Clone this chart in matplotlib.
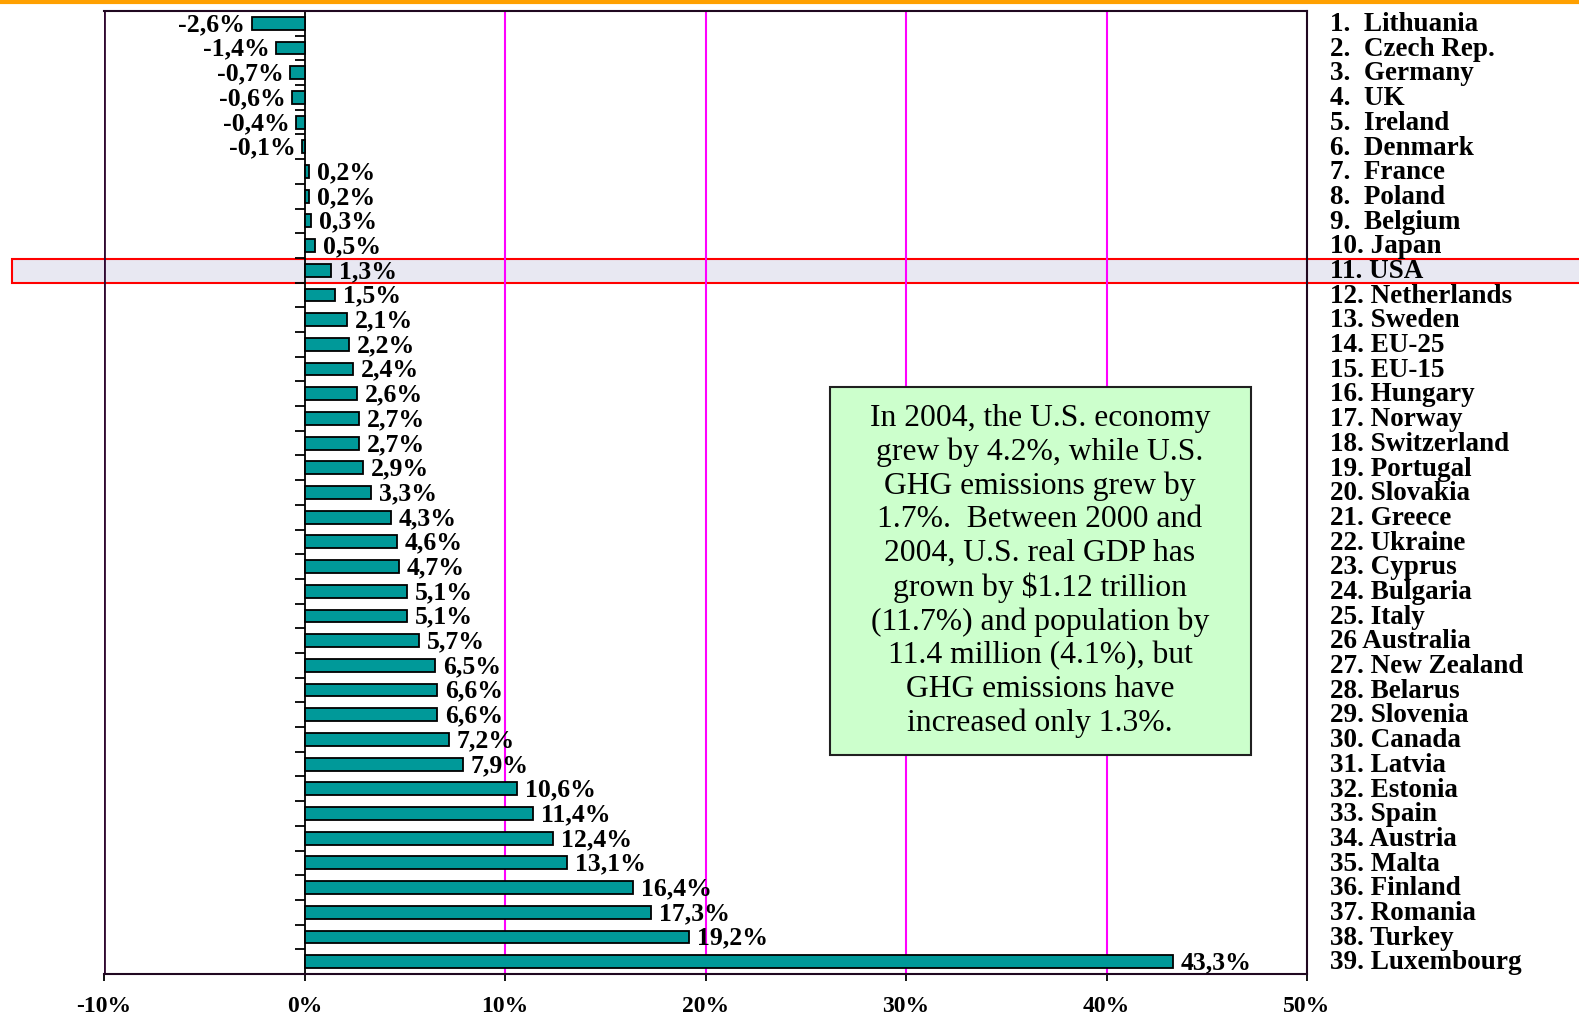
import numpy as np
import matplotlib.pyplot as plt
from matplotlib.patches import Rectangle
from matplotlib.lines import Line2D
import matplotlib.transforms as mtrans

plt.rcParams['font.family'] = ['Liberation Serif', 'DejaVu Serif']

# данные: изменение выбросов ПГ 2003-2004, %
countries = ['Lithuania', 'Czech Rep.', 'Germany', 'UK', 'Ireland', 'Denmark', 'France',
             'Poland', 'Belgium', 'Japan', 'USA', 'Netherlands', 'Sweden', 'EU-25', 'EU-15',
             'Hungary', 'Norway', 'Switzerland', 'Portugal', 'Slovakia', 'Greece', 'Ukraine',
             'Cyprus', 'Bulgaria', 'Italy', 'Australia', 'New Zealand', 'Belarus', 'Slovenia',
             'Canada', 'Latvia', 'Estonia', 'Spain', 'Austria', 'Malta', 'Finland', 'Romania',
             'Turkey', 'Luxembourg']
values = [-2.6, -1.4, -0.7, -0.6, -0.4, -0.1, 0.2, 0.2, 0.3, 0.5, 1.3, 1.5, 2.1, 2.2, 2.4,
          2.6, 2.7, 2.7, 2.9, 3.3, 4.3, 4.6, 4.7, 5.1, 5.1, 5.7, 6.5, 6.6, 6.6, 7.2, 7.9,
          10.6, 11.4, 12.4, 13.1, 16.4, 17.3, 19.2, 43.3]
xticks = [-10, 0, 10, 20, 30, 40, 50]
highlight = 'USA'
note = ("In 2004, the U.S. economy\ngrew by 4.2%, while U.S.\nGHG emissions grew by\n"
        "1.7%.  Between 2000 and\n2004, U.S. real GDP has\ngrown by $1.12 trillion\n"
        "(11.7%) and population by\n11.4 million (4.1%), but\nGHG emissions have\n"
        "increased only 1.3%.")

W, H = 1579, 1017
fig = plt.figure(figsize=(W / 100, H / 100), dpi=100)
ax = fig.add_axes([104 / W, 1 - 974 / H, (1307 - 104) / W, (974 - 11) / H])

y = np.arange(len(values))
ax.set_xlim(-10, 50)
ax.set_ylim(len(values) - 0.5, -0.5)

# вертикальные линии сетки
for gx in xticks[2:-1]:
    ax.axvline(gx, color='#FF00FF', lw=1.5, zorder=1)

ax.barh(y, values, height=0.52, color='#009999', edgecolor='black', lw=1.3, zorder=3)

for yi, v in zip(y, values):
    s = f"{v:.1f}%".replace('.', ',')
    if v < 0:
        ax.text(v - 0.35, yi + 0.05, s, ha='right', va='center', fontsize=18.5, fontweight='bold', zorder=4)
    else:
        ax.text(v + 0.4, yi + 0.05, s, ha='left', va='center', fontsize=18.5, fontweight='bold', zorder=4)

# подписи стран справа
for i, name in enumerate(countries):
    n = i + 1
    if n < 10:
        lab = f"{n}.  {name}"
    elif n == 26:
        lab = f"{n} {name}"
    else:
        lab = f"{n}. {name}"
    ax.text(51.15, i + 0.05, lab, ha='left', va='center', fontsize=19.5, fontweight='bold',
            clip_on=False, zorder=4)

# выделение строки USA
hi = countries.index(highlight)
tr = mtrans.blended_transform_factory(fig.transFigure, ax.transData)
fig.patches.append(Rectangle((12 / W, hi - 0.45), 1.0, 0.98, transform=tr,
                             facecolor='#E8E8F2', edgecolor='#FF0000', lw=1.5, zorder=-1))
ax.set_facecolor('none')

# оси
ax.spines['left'].set_position(('data', 0))
ax.spines['left'].set_linewidth(1.3)
for sp in ['top', 'right', 'bottom']:
    ax.spines[sp].set_color('#200820')
    ax.spines[sp].set_linewidth(1.5)
ax.axvline(-10, color='#300830', lw=2, zorder=2)
ax.set_yticks(np.arange(-0.5, len(values)))
ax.set_yticklabels([])
ax.tick_params(axis='y', length=7, width=1.3, direction='out')
ax.set_xticks(xticks)
ax.set_xticklabels([f"{t}%" for t in xticks], fontsize=17, fontweight='bold')
ax.tick_params(axis='x', length=5, width=1.3, pad=11)

# текстовый блок
fig.patches.append(Rectangle((830 / W, 1 - 755 / H), (1251 - 830) / W, (755 - 387) / H,
                             transform=fig.transFigure, facecolor='#CCFFCC',
                             edgecolor='#202020', lw=1.5, zorder=5))
fig.text(1040 / W, 1 - 571 / H, note, ha='center', va='center', fontsize=22.8,
         linespacing=1.2, zorder=6)

# оранжевая полоса сверху
fig.add_artist(Line2D([0, 1], [1 - 1.5 / H, 1 - 1.5 / H], transform=fig.transFigure,
                      color='#FFA000', lw=3))

fig.savefig('out.png', dpi=100)
